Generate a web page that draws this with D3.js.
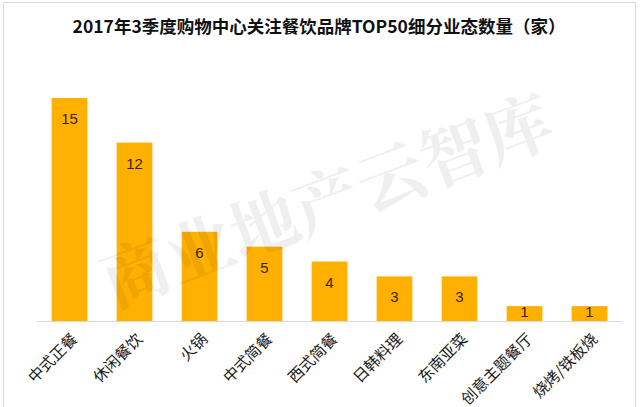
<!DOCTYPE html>
<html><head><meta charset="utf-8">
<script src="https://cdn.jsdelivr.net/npm/d3@7"></script>
<style>body{margin:0;background:#fff}svg{display:block}</style>
</head><body>
<script>
const title = "2017年3季度购物中心关注餐饮品牌TOP50细分业态数量（家）";
const categories = ["中式正餐","休闲餐饮","火锅","中式简餐","西式简餐","日韩料理","东南亚菜","创意主题餐厅","烧烤/铁板烧"];
const values = [15,12,6,5,4,3,3,1,1];
const watermark = "商业地产云智库";

const W = 640, H = 407;
const svg = d3.select("body").append("svg").attr("width", W).attr("height", H);
const font = "'Noto Sans CJK SC', 'Microsoft YaHei', sans-serif";

svg.append("rect").attr("x",3.5).attr("y",2.5).attr("width",632).attr("height",410)
  .attr("fill","#fff").attr("stroke","#d9d9d9");

const x = d3.scaleBand().domain(categories).range([37,622]).paddingInner(0.45).paddingOuter(0.225);
const y = d3.scaleLinear().domain([0,15]).range([321,98]);

svg.append("text").attr("x",319).attr("y",33).attr("text-anchor","middle")
  .attr("font-family",font).attr("font-weight","bold").attr("font-size",17.5).attr("fill","#111").text(title);

svg.selectAll("rect.bar").data(values).join("rect").attr("class","bar")
  .attr("x",(d,i)=>x(categories[i])).attr("width",x.bandwidth())
  .attr("y",d=>y(d)).attr("height",d=>y(0)-y(d)).attr("fill","#FFB000");

svg.selectAll("text.val").data(values).join("text").attr("class","val")
  .attr("x",(d,i)=>x(categories[i])+x.bandwidth()/2).attr("y",d=>y(d)+(d>=2?26:11))
  .attr("text-anchor","middle").attr("font-family","'Liberation Sans', Arial, sans-serif")
  .attr("font-size",15).attr("fill","#3b2500").text(d=>d);

const xAxis = d3.axisBottom(x).tickSize(0).tickPadding(0);
const gx = svg.append("g").attr("transform","translate(0,321)").call(xAxis);
gx.select(".domain").attr("stroke","#d9d9d9").attr("d","M37,0.5H622");
gx.selectAll(".tick text").attr("font-family",font).attr("font-size",15.5).attr("fill","#1a1a1a")
  .attr("text-anchor","end").attr("dy",0).attr("y",0)
  .attr("transform","translate(9,19) rotate(-45)");

svg.append("text").attr("transform","translate(330,208) rotate(-20.6)")
  .attr("text-anchor","middle").attr("dominant-baseline","middle")
  .attr("font-family","'Noto Serif CJK SC', 'Noto Sans CJK SC', serif").attr("font-weight","bold").attr("font-size",68)
  .attr("fill","#000").attr("opacity",0.06).text(watermark);
</script>
</body></html>
